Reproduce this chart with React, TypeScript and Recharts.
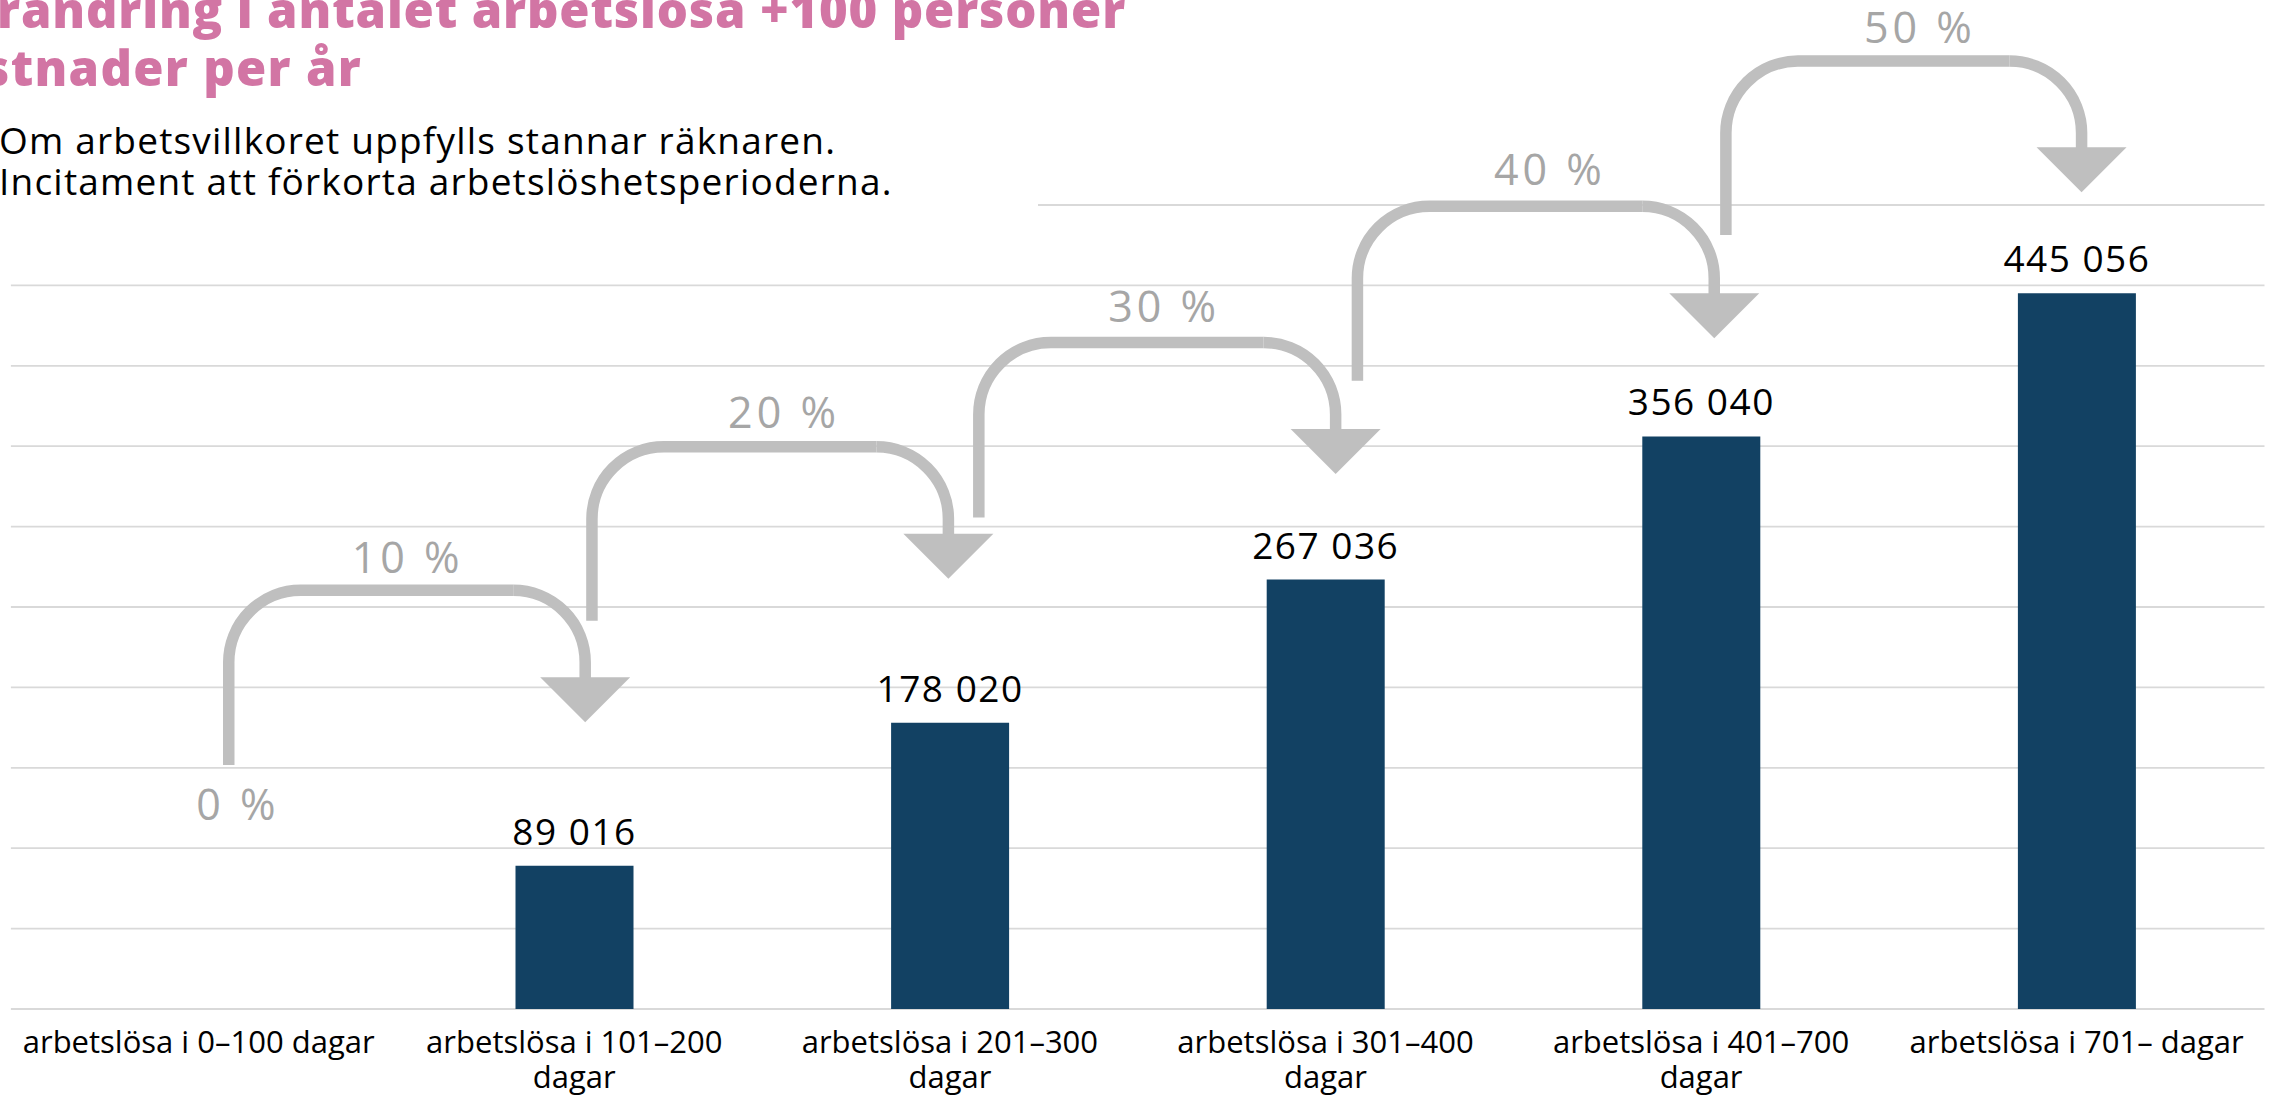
import React from 'react';
import {
  BarChart,
  Bar,
  XAxis,
  YAxis,
  CartesianGrid,
  LabelList,
  ReferenceLine,
  ReferenceDot,
} from 'recharts';

// categories (\n = line break in the axis label)
const categories = [
  'arbetslösa i 0–100 dagar',
  'arbetslösa i 101–200\ndagar',
  'arbetslösa i 201–300\ndagar',
  'arbetslösa i 301–400\ndagar',
  'arbetslösa i 401–700\ndagar',
  'arbetslösa i 701– dagar',
];
const costs = [0, 89016, 178020, 267036, 356040, 445056];
const yTicks = [0, 50000, 100000, 150000, 200000, 250000, 300000, 350000, 400000, 450000, 500000];
const xTicks = [0, 1, 2, 3, 4, 5];

// step arrows, in chart units (x = category position, y = kronor)
const arrowFrom = [0.08, 1.047, 2.077, 3.085, 4.066];
const arrowTo = [1.029, 1.996, 3.027, 4.035, 5.013];
const arrowStart = [151800, 241400, 305700, 390700, 481300];
const arrowTop = [260400, 349600, 414500, 499200, 589500];
const arrowTip = [178400, 267600, 332700, 417100, 507900];

const pctLabels = ['0 %', '10 %', '20 %', '30 %', '40 %', '50 %'];
const pctX = [0.099, 0.551, 1.553, 2.565, 3.592, 4.577];
const pctY = [117500, 271100, 361100, 427200, 512400, 600900];

const data = categories.map((name, i) => ({ pos: i, name, cost: costs[i] }));

const BAR = '#124163';
const ARROW = '#BFBFBF';
const PCT = '#A6A6A6';
const GRID = '#D9D9D9';
const FONT = '"Open Sans", "Noto Sans", sans-serif';
const R = 72;
const HEAD = 45;

const fmt = (v: number) => String(v).replace(/\B(?=(\d{3})+(?!\d))/g, ' ');

const RiseShape = (p: any) => {
  const { x1, y1, x2, y2 } = p;
  const d = `M${x1},${y1} V${y2 + R} A${R},${R} 0 0 1 ${x1 + R},${y2} H${x2 - R}`;
  return <path d={d} fill="none" stroke={ARROW} strokeWidth={11.5} />;
};

const DropShape = (p: any) => {
  const { x1, y1, y2 } = p;
  const d = `M${x1 - R},${y1} A${R},${R} 0 0 1 ${x1},${y1 + R} V${y2 - HEAD + 1}`;
  return (
    <g>
      <path d={d} fill="none" stroke={ARROW} strokeWidth={11.5} />
      <path d={`M${x1 - HEAD},${y2 - HEAD} L${x1 + HEAD},${y2 - HEAD} L${x1},${y2} Z`} fill={ARROW} />
    </g>
  );
};

const CategoryTick = ({ x, y, payload }: any) => {
  const lines = categories[payload.value].split('\n');
  return (
    <text x={x} y={y} textAnchor="middle" fontFamily={FONT} fontSize={31} fill="#000">
      {lines.map((l, i) => (
        <tspan key={i} x={x} dy={i === 0 ? 44 : 35}>
          {l}
        </tspan>
      ))}
    </text>
  );
};

const ValueLabel = (props: any) => {
  const vb = props.viewBox ?? props;
  const x = Number(vb.x ?? props.x);
  const y = Number(vb.y ?? props.y);
  const w = Number(vb.width ?? props.width);
  if (!props.value) return null;
  return (
    <text
      x={x + w / 2}
      y={y - 21}
      textAnchor="middle"
      fontFamily={FONT}
      fontSize={37}
      letterSpacing={1.5}
      fill="#000"
    >
      {fmt(props.value)}
    </text>
  );
};

const App: React.FC = () => {
  return (
    <div style={{ position: 'relative', width: 2270, height: 1095, overflow: 'hidden', background: '#fff' }}>
      <style>{'body{margin:0}'}</style>
      <BarChart
        width={2270}
        height={1095}
        data={data}
        margin={{ top: 205, right: 5.5, bottom: 0, left: 10.9 }}
      >
        <CartesianGrid horizontal vertical={false} stroke={GRID} strokeWidth={1.8} />
        <XAxis
          type="number"
          dataKey="pos"
          domain={[-0.5, 5.5]}
          ticks={xTicks}
          interval={0}
          height={86}
          axisLine={false}
          tickLine={false}
          tickSize={0}
          tickMargin={0}
          tick={<CategoryTick />}
        />
        <YAxis hide domain={[0, 500000]} ticks={yTicks} allowDataOverflow />
        <Bar dataKey="cost" fill={BAR} barSize={118} isAnimationActive={false}>
          <LabelList dataKey="cost" content={ValueLabel} />
        </Bar>

        {arrowFrom.map((fx, i) => (
          <ReferenceLine
            key={`rise${i}`}
            segment={[
              { x: fx, y: arrowStart[i] },
              { x: arrowTo[i], y: arrowTop[i] },
            ]}
            ifOverflow="visible"
            shape={RiseShape}
          />
        ))}
        {arrowTo.map((tx, i) => (
          <ReferenceLine
            key={`drop${i}`}
            segment={[
              { x: tx, y: arrowTop[i] },
              { x: tx, y: arrowTip[i] },
            ]}
            ifOverflow="visible"
            shape={DropShape}
          />
        ))}
        {pctLabels.map((label, i) => (
          <ReferenceDot
            key={`pct${i}`}
            x={pctX[i]}
            y={pctY[i]}
            ifOverflow="visible"
            shape={(p: any) => (
              <text
                x={p.cx + 2}
                y={p.cy}
                textAnchor="middle"
                fontFamily={FONT}
                fontSize={43}
                letterSpacing={4}
                fill={PCT}
              >
                {label}
              </text>
            )}
          />
        ))}
      </BarChart>

      <svg
        width={2270}
        height={220}
        style={{ position: 'absolute', left: 0, top: 0, zIndex: 1, overflow: 'visible' }}
      >
        <rect x={0} y={0} width={1038} height={213} fill="#fff" />
        <text x={1126} y={28} textAnchor="end" fontFamily={FONT} fontWeight={800} fontSize={49} letterSpacing={0.85} fill="#D275A4">
          Förändring i antalet arbetslösa +100 personer
        </text>
        <text x={362} y={86} textAnchor="end" fontFamily={FONT} fontWeight={800} fontSize={49} letterSpacing={1.3} fill="#D275A4">
          Kostnader per år
        </text>
        <text x={-1} y={154} fontFamily={FONT} fontSize={37} letterSpacing={1.2} fill="#000">
          Om arbetsvillkoret uppfylls stannar räknaren.
        </text>
        <text x={-1} y={195} fontFamily={FONT} fontSize={37} letterSpacing={1.2} fill="#000">
          Incitament att förkorta arbetslöshetsperioderna.
        </text>
      </svg>
    </div>
  );
};

export default App;
